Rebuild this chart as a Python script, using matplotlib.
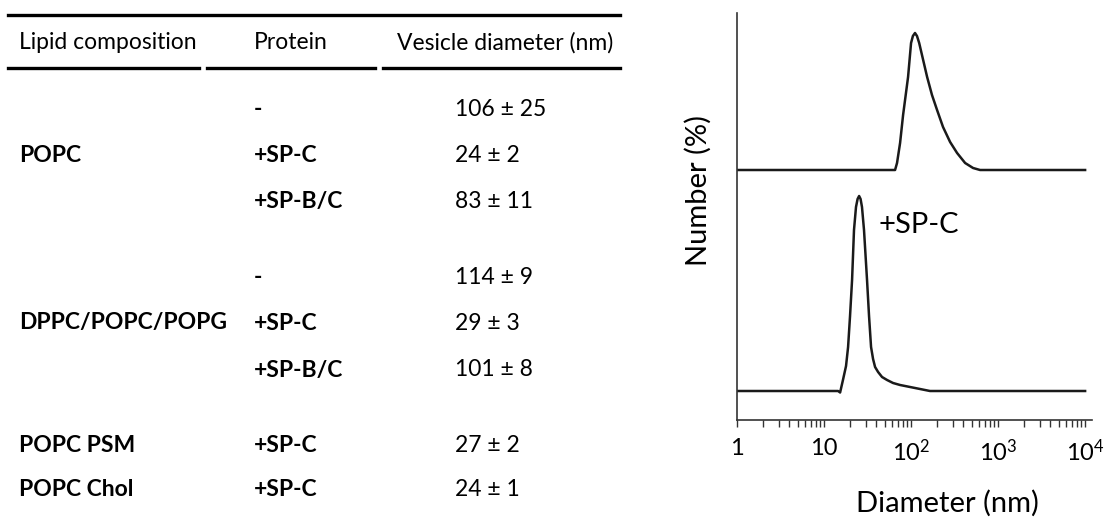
import numpy as np
import matplotlib.pyplot as plt
from matplotlib.lines import Line2D

plt.rcParams['font.family'] = ['Lato', 'DejaVu Sans']
plt.rcParams['mathtext.fontset'] = 'custom'
plt.rcParams['mathtext.rm'] = 'Lato'

# table data
lipids = ['', 'POPC', '', '', 'DPPC/POPC/POPG', '', 'POPC PSM', 'POPC Chol']
proteins = ['-', '+SP-C', '+SP-B/C', '-', '+SP-C', '+SP-B/C', '+SP-C', '+SP-C']
diam_mean = [106, 24, 83, 114, 29, 101, 27, 24]
diam_sd = [25, 2, 11, 9, 3, 8, 2, 1]
headers = ['Lipid composition', 'Protein', 'Vesicle diameter (nm)']

# size distributions (diameter nm, number %)
d_plain = [1, 65.5, 69.0, 74.8, 81, 92.4, 100, 105, 111, 117, 124, 153, 174, 199, 233, 281, 338, 418, 516, 621, 10000]
n_plain = [0, 0, 0.7, 2.7, 5.5, 9.3, 12.7, 13.4, 13.7, 13.4, 12.7, 9.3, 7.5, 6.0, 4.3, 2.8, 1.7, 0.7, 0.2, 0, 0]
d_spc = [1, 14.5, 15.3, 16.5, 17.9, 18.9, 19.9, 21.0, 22.1, 23.3, 24.3, 25.3, 26.3, 27.3, 28.8, 31.2, 32.9,
         34.7, 36.6, 38.6, 41.8, 46.4, 53, 62.1, 74.8, 97.4, 165, 10000]
n_spc = [0, 0, -0.15, 1.1, 2.5, 4.4, 7.5, 11.1, 16.1, 18.4, 19.2, 19.5, 19.2, 18.4, 16.1, 11.1, 7.5,
         4.4, 3.2, 2.4, 1.9, 1.4, 1.1, 0.8, 0.6, 0.4, 0, 0]
offset_plain = 22.1

fig = plt.figure(figsize=(11.1, 5.24), dpi=100)

# ---- table on the left ----
H = 524.0
W = 1110.0
def fx(px):
    return px / W
def fy(py):
    return 1 - py / H

fig.add_artist(Line2D([fx(8), fx(620)], [fy(15), fy(15)], color='black', lw=2.4))
for x0, x1 in [(8, 199), (207, 375), (383, 620)]:
    fig.add_artist(Line2D([fx(x0), fx(x1)], [fy(68), fy(68)], color='black', lw=2.4))

col_x = [19, 254, 455]
head_x = [19, 254, 397]
for hx, h in zip(head_x, headers):
    fig.text(fx(hx), fy(43), h, fontsize=16.5, va='center', ha='left')

row_y = [110, 156, 202, 278, 323, 370, 445, 490]
for y, lip, prot, m, s in zip(row_y, lipids, proteins, diam_mean, diam_sd):
    if lip:
        fig.text(fx(col_x[0]), fy(y), lip, fontsize=16.5, fontweight='bold', va='center', ha='left')
    fig.text(fx(col_x[1]), fy(y), prot, fontsize=16.5, fontweight='bold', va='center', ha='left')
    fig.text(fx(col_x[2]), fy(y), f'{m} ± {s}', fontsize=16.5, va='center', ha='left')

# ---- distribution plot on the right ----
ax = fig.add_axes([737 / W, 104 / H, 355 / W, 407 / H])
ax.plot(d_plain, np.array(n_plain) + offset_plain, color='#1a1a1a', lw=1.8, solid_joinstyle='round')
ax.plot(d_spc, n_spc, color='#1a1a1a', lw=1.8, solid_joinstyle='round')
ax.set_xscale('log')
ax.set_xlim(1, 1.2e4)
ax.set_ylim(-2.9, 37.8)
ax.spines['top'].set_visible(False)
ax.spines['right'].set_visible(False)
for sp in ['left', 'bottom']:
    ax.spines[sp].set_linewidth(1.2)
    ax.spines[sp].set_color('#333333')
ax.set_yticks([])
ax.set_xticks([1, 10, 100, 1000, 10000])
ax.set_xticklabels(['1', '10', r'$\mathregular{10^2}$', r'$\mathregular{10^3}$', r'$\mathregular{10^4}$'], fontsize=17)
ax.tick_params(axis='x', which='both', length=5, width=1, color='#333333', pad=8)
ax.text(878 / W, fy(225), '+SP-C', transform=fig.transFigure, fontsize=21, va='center', ha='left')
ax.set_xlabel('Diameter (nm)', fontsize=21)
ax.xaxis.set_label_coords(0.594, -0.172)
ax.set_ylabel('Number (%)', fontsize=21)
ax.yaxis.set_label_coords(-0.07, 0.565)

fig.savefig('out.png', dpi=100)
